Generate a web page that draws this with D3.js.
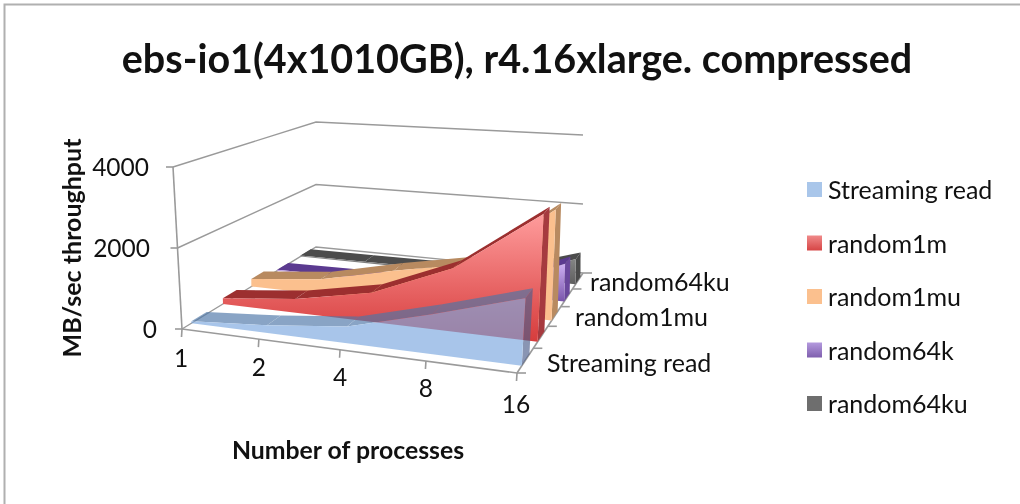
<!DOCTYPE html>
<html><head><meta charset="utf-8">
<script src="https://cdnjs.cloudflare.com/ajax/libs/d3/7.8.5/d3.min.js"></script>
<style>html,body{margin:0;padding:0;background:#fff}svg{display:block;filter:blur(0.5px)}text{font-family:Lato,"Open Sans",sans-serif;fill:#111}</style>
</head><body><svg id="c" width="1020" height="504"></svg>
<script>
const categories = ["1","2","4","8","16"];
const valueTicks = [0,2000,4000];
const seriesNames = ["Streaming read","random1m","random1mu","random64k","random64ku"];
const depthLabels = ["Streaming read","random1mu","random64ku"];
const streamingRead = [50,190,400,930,1530];
const random1m = [150,350,730,1550,3060];
const random1mu = [210,410,850,1230,2800];
const random64k = [30,50,80,150,1000];
const random64ku = [30,40,50,80,700];
const seriesValues = [streamingRead,random1m,random1mu,random64k,random64ku];
const faceColors = [["#7ba8df","#7ba8df"],["#ff9c9c","#d63c3c"],["#fbc08e","#fbc08e"],["#cdb0f2","#7a55ab"],["#8a8a8a","#5e5e5e"]];
const topColors = ["#4d76a7","#9c2f2f","#b88a60","#5b3a90","#4c4c4c"];
const capColors = ["#4d5f8c","#a63a3f","#b88a60","#6a489c","#4a4a4a"];
const legendColors = [["#a9c6ea","#a9c6ea"],["#f08a8a","#d64545"],["#fbc08e","#fbc08e"],["#b49ade","#7f5fae"],["#6e6e6e","#6e6e6e"]];

const svg = d3.select("#c");
const defs = svg.append("defs");
function grad(id,c){const g=defs.append("linearGradient").attr("id",id).attr("x1",0).attr("y1",0).attr("x2",0).attr("y2",1);
 g.append("stop").attr("offset",0).attr("stop-color",c[0]);g.append("stop").attr("offset",1).attr("stop-color",c[1]);}
faceColors.forEach((c,i)=>grad("f"+i,c));
legendColors.forEach((c,i)=>grad("l"+i,c));

svg.append("path").attr("d","M4.5,504V4.5H1020").attr("fill","none").attr("stroke","#b0b0b0").attr("stroke-width",2);

const uScale = d3.scalePoint().domain(categories).range([0,1]);
const wScale = d3.scaleLinear().domain([0,5]).range([0,1]);
const hScale = d3.scaleLinear().domain([0,4000]).range([0,1]);

function homography(p00,p10,p11,p01){
  const dx1=p10[0]-p11[0],dx2=p01[0]-p11[0],sx=p00[0]-p10[0]+p11[0]-p01[0];
  const dy1=p10[1]-p11[1],dy2=p01[1]-p11[1],sy=p00[1]-p10[1]+p11[1]-p01[1];
  const det=dx1*dy2-dx2*dy1;
  const g=(sx*dy2-dx2*sy)/det,h=(dx1*sy-sx*dy1)/det;
  const a=p10[0]-p00[0]+g*p10[0],b=p01[0]-p00[0]+h*p01[0],c=p00[0];
  const d=p10[1]-p00[1]+g*p10[1],e=p01[1]-p00[1]+h*p01[1],f=p00[1];
  return (u,v)=>{const z=g*u+h*v+1;return [(a*u+b*v+c)/z,(d*u+e*v+f)/z];};
}
const floor = homography([182,329],[517,373],[583,273],[316,247]);
const roof = homography([173,167],[527,194],[583,135],[316,122]);
function proj(u,w,val){
  const a=floor(u,w),b=roof(u,w),k=hScale(val);
  return [a[0]+(b[0]-a[0])*k,a[1]+(b[1]-a[1])*k];
}
const line = d3.line();
const axisC="#9a9a9a";
function seg(p,q,w){svg.append("path").attr("d",line([p,q])).attr("fill","none").attr("stroke",axisC).attr("stroke-width",w||1.6);}

valueTicks.forEach(v=>{
  svg.append("path").attr("d",line([proj(0,0,v),proj(0,1,v),proj(1,1,v)])).attr("fill","none").attr("stroke",axisC).attr("stroke-width",1.4);
});
seg(proj(0,0,0),proj(0,0,4000));
seg(proj(0,0,0),proj(1,0,0));
seg(proj(1,0,0),proj(1,1,0));
valueTicks.forEach(v=>{const p=proj(0,0,v);seg([p[0]-7,p[1]],p);});
categories.forEach(c=>{const p=proj(uScale(c),0,0);seg(p,[p[0]-0.5,p[1]+8]);});
d3.range(0,6).forEach(i=>{const p=proj(1,wScale(i),0);seg(p,[p[0]+9,p[1]]);});

const gapF=0.28, gapB=0.75;
d3.range(4,-1,-1).forEach(i=>{
  const vals=seriesValues[i], wf=wScale(i+gapF), wb=wScale(i+gapB);
  const g=svg.append("g").attr("opacity",i===0?0.66:1);
  const us=categories.map(c=>uScale(c));
  vals.forEach((v,j)=>{ if(j===vals.length-1)return;
    g.append("path").attr("d",line([proj(us[j],wf,v),proj(us[j+1],wf,vals[j+1]),proj(us[j+1],wb,vals[j+1]),proj(us[j],wb,v)])+"Z").attr("fill",topColors[i]);
  });
  const n=vals.length-1;
  g.append("path").attr("d",line([proj(1,wf,0),proj(1,wf,vals[n]),proj(1,wb,vals[n]),proj(1,wb,0)])+"Z").attr("fill",capColors[i]);
  const pts=[proj(0,wf,0)].concat(vals.map((v,j)=>proj(us[j],wf,v))).concat([proj(1,wf,0)]);
  g.append("path").attr("d",line(pts)+"Z").attr("fill","url(#f"+i+")");
});

const valueLabelX={0:157,2000:150,4000:149};
valueTicks.forEach(v=>{
  const p=proj(0,0,v);
  svg.append("text").attr("x",valueLabelX[v]).attr("y",p[1]+9).attr("text-anchor","end").attr("font-size",24.5).text(d3.format("d")(v));
});
const catOff=[[-1,38],[0,37],[0,36],[0,36],[-1,40]];
categories.forEach((c,i)=>{
  const p=proj(uScale(c),0,0);
  svg.append("text").attr("x",p[0]+catOff[i][0]).attr("y",p[1]+catOff[i][1]).attr("text-anchor","middle").attr("font-size",24.5).text(c);
});
const depthX=[547,575,590],depthY=[372,326,291];
depthLabels.forEach((t,i)=>svg.append("text").attr("x",depthX[i]).attr("y",depthY[i]).attr("font-size",25).text(t));
svg.append("text").attr("x",517).attr("y",73).attr("text-anchor","middle").attr("font-weight",700).attr("font-size",39.5).text("ebs-io1(4x1010GB), r4.16xlarge. compressed");
svg.append("text").attr("x",348).attr("y",459).attr("text-anchor","middle").attr("font-weight",700).attr("font-size",24.8).text("Number of processes");
svg.append("text").attr("transform","translate(81,248) rotate(-90)").attr("text-anchor","middle").attr("font-weight",700).attr("font-size",25).text("MB/sec throughput");
const legendY=d3.scalePoint().domain(seriesNames).range([182,396]);
seriesNames.forEach((s,i)=>{
  svg.append("rect").attr("x",807).attr("y",legendY(s)).attr("width",15).attr("height",15).attr("fill","url(#l"+i+")");
  svg.append("text").attr("x",828).attr("y",legendY(s)+17).attr("font-size",25).text(s);
});
</script></body></html>
